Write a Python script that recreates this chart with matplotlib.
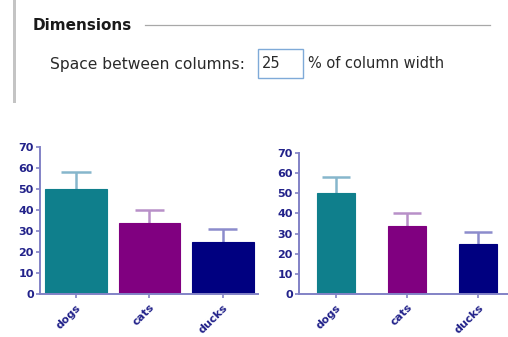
import matplotlib
matplotlib.use("Agg")
import matplotlib.pyplot as plt
from matplotlib.patches import Rectangle
from matplotlib.lines import Line2D

W, H = 508, 337
categories = ["dogs", "cats", "ducks"]
means = [50, 34, 25]
errors = [8, 6, 6]
bar_colors = ["#0F7F8C", "#800080", "#000080"]
err_colors = ["#86B6CC", "#B890C8", "#8C8CCC"]
yticks = [0, 10, 20, 30, 40, 50, 60, 70]
dialog_title = "Dimensions"
dialog_label = "Space between columns:"
dialog_value = "25"
dialog_unit = "% of column width"

AXIS_C = "#8282C6"
TICK_TXT = "#22228A"

fig = plt.figure(figsize=(W / 100, H / 100), dpi=100)
fig.patch.set_facecolor("white")

def fx(x):
    return x / W

def fy(y):
    return 1 - y / H

# dialog part
fig.add_artist(Rectangle((fx(13), fy(103)), fx(3), 103 / H, transform=fig.transFigure,
                         facecolor="#C4C4C4", edgecolor="none"))
fig.text(fx(33), fy(26), dialog_title, fontsize=11, fontweight="bold",
         family="DejaVu Sans", color="#1A1A1A", va="center", ha="left")
fig.add_artist(Line2D([fx(145), fx(490)], [fy(25), fy(25)], transform=fig.transFigure,
                      color="#A8A8A8", lw=0.9))
fig.text(fx(50), fy(64), dialog_label, fontsize=11.2, family="DejaVu Sans",
         color="#2A2A2A", va="center", ha="left")
fig.add_artist(Rectangle((fx(258), fy(78)), fx(45), 29 / H, transform=fig.transFigure,
                         facecolor="white", edgecolor="#7FAAD8", lw=1.0))
fig.text(fx(262), fy(64), dialog_value, fontsize=10.5, family="DejaVu Sans",
         color="#2A2A2A", va="center", ha="left")
fig.text(fx(308), fy(64), dialog_unit, fontsize=10.5, family="DejaVu Sans",
         color="#2A2A2A", va="center", ha="left")

def draw_chart(left, right, top, bottom, xlim, width):
    ax = fig.add_axes([fx(left), fy(bottom), fx(right - left), (bottom - top) / H])
    x = list(range(len(categories)))
    for i in x:
        ax.plot([i, i], [means[i], means[i] + errors[i]], color=err_colors[i],
                lw=1.8, zorder=1, solid_capstyle="butt")
        ax.plot([i - 0.2, i + 0.2], [means[i] + errors[i]] * 2, color=err_colors[i],
                lw=1.8, zorder=1, solid_capstyle="butt")
    ax.bar(x, means, width=width, color=bar_colors, edgecolor=bar_colors, lw=0.8, zorder=2)
    ax.set_xlim(*xlim)
    ax.set_ylim(0, 70)
    ax.set_yticks(yticks)
    ax.set_xticks(x)
    ax.set_xticklabels(categories, rotation=45, ha="right", rotation_mode="anchor")
    for s in ["top", "right"]:
        ax.spines[s].set_visible(False)
    for s in ["left", "bottom"]:
        ax.spines[s].set_color(AXIS_C)
        ax.spines[s].set_linewidth(1.4)
    ax.tick_params(axis="both", colors=AXIS_C, labelcolor=TICK_TXT, length=3, width=1.2,
                   labelsize=8, pad=1.5)
    ax.tick_params(axis="x", pad=3)
    for lab in ax.get_xticklabels() + ax.get_yticklabels():
        lab.set_fontweight("bold")
    ax.patch.set_visible(False)
    return ax

draw_chart(40, 258, 147, 294, (-0.49, 2.48), 0.84)
draw_chart(299, 508, 153, 294, (-0.52, 2.42), 0.535)

fig.savefig("out.png", dpi=100, facecolor="white")
